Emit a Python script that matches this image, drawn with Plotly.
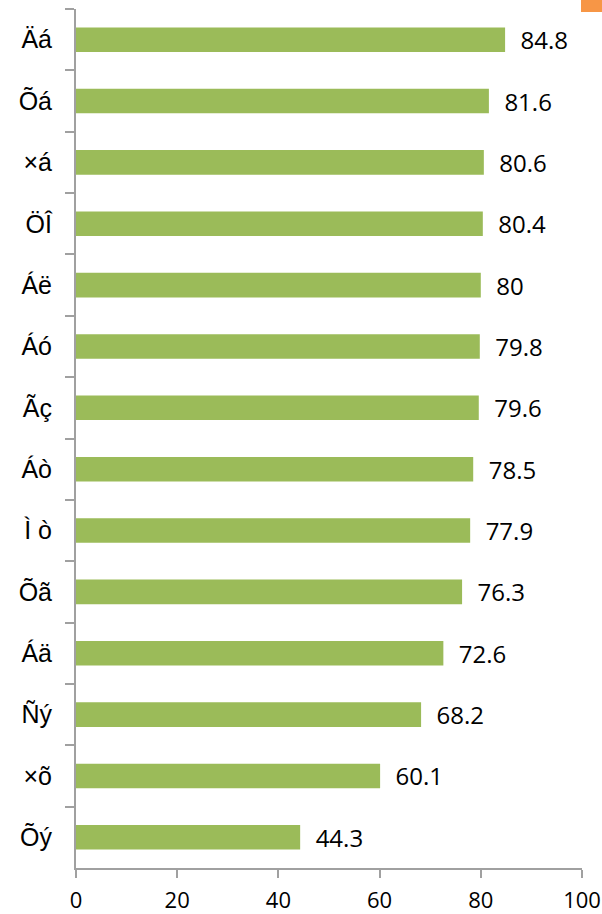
import plotly.graph_objects as go

categories = ["Äá", "Õá", "×á", "ÖÎ", "Áë", "Áó", "Ãç", "Áò", "Ì ò", "Õã", "Áä", "Ñý", "×õ", "Õý"]
values = [84.8, 81.6, 80.6, 80.4, 80, 79.8, 79.6, 78.5, 77.9, 76.3, 72.6, 68.2, 60.1, 44.3]
x_ticks = [0, 20, 40, 60, 80, 100]

bar_color = "#9BBB59"
axis_color = "#A0A0A0"

fig = go.Figure()
fig.add_trace(go.Bar(
    x=values,
    y=categories,
    orientation="h",
    marker=dict(color=bar_color, line=dict(width=0)),
    text=["\u00a0\u00a0" + f"{v:g}" for v in values],
    textposition="outside",
    constraintext="none",
    textfont=dict(family="Open Sans", size=24, color="#000000"),
    cliponaxis=False,
    showlegend=False,
    hoverinfo="skip",
))

fig.add_shape(type="rect", xref="paper", yref="paper",
              xsizemode="pixel", ysizemode="pixel",
              xanchor=1, yanchor=1,
              x0=-1, x1=22, y0=-3, y1=12,
              fillcolor="#F79646", line=dict(width=0), layer="above")

fig.update_layout(
    width=602, height=914,
    margin=dict(l=76, r=20, t=9, b=46, autoexpand=False),
    paper_bgcolor="white", plot_bgcolor="white",
    bargap=0.6,
    xaxis=dict(
        range=[0, 100], tickvals=x_ticks, ticktext=[str(t) for t in x_ticks],
        showgrid=False, zeroline=False, automargin=False,
        showline=True, linecolor=axis_color, linewidth=2,
        ticks="outside", ticklen=8, tickcolor=axis_color, tickwidth=2,
        tickfont=dict(family="Open Sans", size=22, color="#000000"),
        ticklabelstandoff=4,
    ),
    yaxis=dict(
        categoryorder="array", categoryarray=categories,
        autorange="reversed", automargin=False,
        showgrid=False, zeroline=False,
        showline=True, linecolor=axis_color, linewidth=2,
        ticks="outside", ticklen=9, tickcolor=axis_color, tickwidth=2,
        tickson="boundaries",
        tickfont=dict(family="Liberation Sans", size=25, color="#000000"),
        ticklabelstandoff=17,
    ),
)

fig.write_html("out.html", config={"displayModeBar": False},
               post_script="document.body.style.margin='0';document.body.style.overflow='hidden';")
